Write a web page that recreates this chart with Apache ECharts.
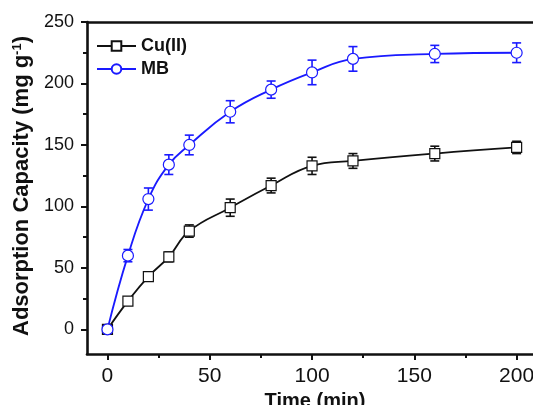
<!DOCTYPE html>
<html>
<head>
<meta charset="utf-8">
<script src="https://cdn.jsdelivr.net/npm/echarts@6/dist/echarts.min.js"></script>
<style>
  html, body { margin: 0; padding: 0; background: #ffffff; }
  #chart { width: 533px; height: 405px; }
</style>
</head>
<body>
<div id="chart"></div>
<script>
// Contact time (min)
const times = [0, 10, 20, 30, 40, 60, 80, 100, 120, 160, 200];
// Adsorption capacity (mg g-1) and standard deviations
const cuValues = [0, 23, 43, 59, 80, 99, 117, 133, 137, 143, 148];
const cuErrors = [0, 3, 2, 4, 5, 7, 6, 7, 6, 6, 5];
const mbValues = [0, 60, 106, 134, 150, 177, 195, 209, 220, 224, 225];
const mbErrors = [0, 5, 9, 8, 8, 9, 7, 10, 10, 7, 8];
// Axis ticks
const xMajorTicks = [0, 50, 100, 150, 200];
const xMinorTicks = [25, 75, 125, 175];
const yMajorTicks = [0, 50, 100, 150, 200, 250];
const yMinorTicks = [25, 75, 125, 175, 225];

const FONT = '"Liberation Sans", Arial, sans-serif';
const BLACK = '#111111';
const BLUE = '#1a1aff';

function pairs(xs, ys) { return xs.map((x, i) => [x, ys[i]]); }
function errRows(xs, ys, es) { return xs.map((x, i) => [x, ys[i] - es[i], ys[i] + es[i]]); }

function errorBarSeries(rows, color) {
  return {
    type: 'custom',
    xAxisIndex: 0, yAxisIndex: 0,
    silent: true, z: 1,
    data: rows,
    renderItem: function (params, api) {
      const x = api.value(0);
      const lo = api.coord([x, api.value(1)]);
      const hi = api.coord([x, api.value(2)]);
      const cap = 4.5;
      const style = { stroke: color, lineWidth: 1.6, fill: null };
      return {
        type: 'group',
        children: [
          { type: 'line', shape: { x1: lo[0], y1: lo[1], x2: hi[0], y2: hi[1] }, style: style },
          { type: 'line', shape: { x1: lo[0] - cap, y1: lo[1], x2: lo[0] + cap, y2: lo[1] }, style: style },
          { type: 'line', shape: { x1: hi[0] - cap, y1: hi[1], x2: hi[0] + cap, y2: hi[1] }, style: style }
        ]
      };
    }
  };
}

const chart = echarts.init(document.getElementById('chart'), null, { renderer: 'canvas' });

const axisLineStyle = { color: BLACK, width: 2.6 };

chart.setOption({
  backgroundColor: '#ffffff',
  animation: false,
  grid: { left: 87, right: 0, top: 22, bottom: 51, outerBoundsMode: 'none', containLabel: false },
  legend: {
    orient: 'vertical',
    left: 96,
    top: 37,
    padding: 0,
    itemWidth: 39,
    itemHeight: 12,
    itemGap: 5,
    textStyle: { fontFamily: FONT, fontWeight: 'bold', fontSize: 18, color: BLACK },
    data: ['Cu(II)', 'MB']
  },
  xAxis: [
    {
      type: 'value', min: -10, max: 208, position: 'bottom',
      axisLine: { show: true, onZero: false, lineStyle: axisLineStyle },
      axisTick: { show: true, inside: false, length: 6, lineStyle: { color: BLACK, width: 2 }, customValues: xMajorTicks },
      axisLabel: { show: true, margin: 12, fontFamily: FONT, fontSize: 21, color: BLACK, customValues: xMajorTicks },
      splitLine: { show: false },
      name: 'Time (min)', nameLocation: 'middle', nameGap: 31,
      nameTextStyle: { fontFamily: FONT, fontWeight: 'bold', fontSize: 20, color: BLACK, padding: [0, 0, 0, 10] }
    },
    {
      type: 'value', min: -10, max: 208, position: 'bottom',
      axisLine: { show: false, onZero: false },
      axisTick: { show: true, inside: false, length: 4, lineStyle: { color: BLACK, width: 2 }, customValues: xMinorTicks },
      axisLabel: { show: false },
      splitLine: { show: false }
    },
    {
      type: 'value', min: -10, max: 208, position: 'top',
      axisLine: { show: true, onZero: false, lineStyle: axisLineStyle },
      axisTick: { show: false }, axisLabel: { show: false }, splitLine: { show: false }
    }
  ],
  yAxis: [
    {
      type: 'value', min: -20, max: 250, position: 'left',
      axisLine: { show: true, onZero: false, lineStyle: axisLineStyle },
      axisTick: { show: true, inside: false, length: 6, lineStyle: { color: BLACK, width: 2 }, customValues: yMajorTicks },
      axisLabel: { show: true, margin: 13, fontFamily: FONT, fontSize: 18, color: BLACK, customValues: yMajorTicks },
      splitLine: { show: false },
      name: 'Adsorption Capacity (mg g{sup|-1})', nameLocation: 'middle', nameGap: 46, nameRotate: 90,
      nameTextStyle: {
        fontFamily: FONT, fontWeight: 'bold', fontSize: 22, color: BLACK, padding: [0, 0, 0, 4],
        rich: { sup: { fontFamily: FONT, fontWeight: 'bold', fontSize: 13, color: BLACK, padding: [0, 0, 10, 0] } }
      }
    },
    {
      type: 'value', min: -20, max: 250, position: 'left',
      axisLine: { show: false, onZero: false },
      axisTick: { show: true, inside: false, length: 4, lineStyle: { color: BLACK, width: 2 }, customValues: yMinorTicks },
      axisLabel: { show: false },
      splitLine: { show: false }
    }
  ],
  series: [
    errorBarSeries(errRows(times, cuValues, cuErrors), BLACK),
    errorBarSeries(errRows(times, mbValues, mbErrors), BLUE),
    {
      name: 'Cu(II)', type: 'line', xAxisIndex: 0, yAxisIndex: 0, z: 3,
      data: pairs(times, cuValues),
      smooth: 0.45,
      symbol: 'rect', symbolSize: 10,
      lineStyle: { color: BLACK, width: 1.8 },
      itemStyle: { color: '#ffffff', borderColor: BLACK, borderWidth: 1.2 }
    },
    {
      name: 'MB', type: 'line', xAxisIndex: 0, yAxisIndex: 0, z: 3,
      data: pairs(times, mbValues),
      smooth: 0.45,
      symbol: 'circle', symbolSize: 11,
      lineStyle: { color: BLUE, width: 1.8 },
      itemStyle: { color: '#ffffff', borderColor: BLUE, borderWidth: 1.2 }
    }
  ]
});
</script>
</body>
</html>
